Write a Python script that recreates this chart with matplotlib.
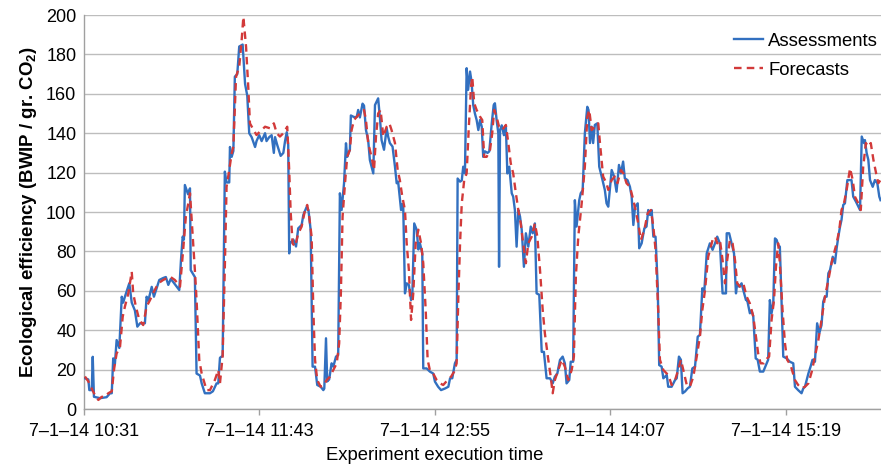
import matplotlib
matplotlib.use('Agg')
from matplotlib import pyplot as plt

# minutes after 7-1-14 10:31
t_assess = [0.4, 1.8, 2.2, 3.2, 3.6, 4.1, 6.6, 9.3, 10.7, 11.4, 12.0, 12.7, 13.4, 14.5, 15.5, 16.1, 16.8,
            18.6, 19.6, 20.9, 21.9, 23.0, 25.0, 25.7, 26.4, 27.8, 28.7, 30.9, 32.5, 33.6, 34.6, 35.6, 36.6,
            39.1, 39.8, 40.5, 41.0, 41.4, 42.7, 43.5, 43.8, 45.5, 46.2, 47.6, 48.3, 49.6, 51.7, 52.9, 54.4,
            55.1, 55.8, 56.9, 57.8, 58.5, 59.6, 59.9, 60.6, 61.3, 61.9, 62.9, 63.7, 65.1, 66.1, 67.0, 67.8,
            68.8, 70.2, 70.8, 71.9, 72.9, 74.3, 74.9, 76.0, 77.0, 77.9, 78.4, 79.3, 80.7, 81.8, 82.5, 83.2,
            83.8, 84.2, 84.5, 85.9, 87.0, 87.9, 89.3, 90.0, 91.4, 92.1, 93.0, 93.8, 94.8, 95.7, 97.1, 98.2,
            98.6, 99.3, 99.8, 100.6, 101.6, 102.3, 103.4, 104.3, 105.0, 105.7, 106.7, 107.5, 108.0, 109.1,
            109.5, 110.8, 111.9, 112.5, 113.2, 114.3, 114.9, 115.7, 116.6, 117.3, 118.7, 119.4, 120.7, 121.4,
            122.1, 123.1, 124.2, 124.8, 125.5, 126.6, 127.6, 128.3, 128.9, 130.1, 130.6, 131.0, 131.7, 132.4,
            133.3, 134.2, 134.7, 135.5, 136.5, 137.2, 137.8, 138.8, 139.2, 140.6, 141.9, 143.3, 144.0, 145.3,
            146.5, 148.1, 149.5, 150.2, 151.1, 152.2, 152.9, 153.3, 154.3, 155.0, 155.6, 156.3, 157.0, 157.6,
            158.4, 159.0, 159.7, 160.4, 161.1, 161.8, 162.5, 163.2, 163.8, 164.5, 165.6, 166.3, 167.3, 168.1,
            168.6, 169.3, 170.0, 170.3, 170.7, 171.4, 172.3, 173.1, 173.7, 174.5, 175.5, 176.1, 176.8, 177.5,
            178.2, 178.9, 179.6, 180.5, 181.3, 182.3, 183.3, 184.1, 185.0, 185.7, 186.8, 187.8, 188.7, 189.8,
            191.2, 192.3, 193.2, 194.2, 195.3, 196.4, 197.3, 198.0, 199.1, 199.7, 200.7, 201.4, 202.1, 203.2,
            203.8, 204.6, 205.5, 206.5, 207.0, 207.6, 208.3, 208.9, 209.6, 210.6, 211.4, 212.4, 213.7, 214.4,
            215.1, 216.5, 217.5, 218.5, 219.5, 220.3, 221.2, 221.9, 223.0, 224.0, 224.7, 225.4, 226.1, 227.2,
            227.8, 228.8, 229.9, 230.8, 231.5, 232.2, 232.9, 233.6, 234.5, 235.4, 236.0, 237.0, 237.7, 238.4,
            239.1, 239.7, 241.1, 242.5, 243.2, 244.1, 244.9, 245.6, 246.6, 247.7, 248.6, 249.6, 250.7, 251.8,
            252.7, 253.7, 254.5, 255.5, 256.8, 257.9, 258.9, 259.8, 260.9, 262.0, 263.4, 263.7, 264.7, 265.7,
            266.7, 267.5, 268.0, 268.8, 269.8, 270.5, 271.6, 272.1, 273.2, 273.9, 274.6, 275.6, 276.4, 277.3,
            278.7, 280.1, 280.7, 281.4, 282.1, 282.8, 283.5, 284.2, 284.8, 285.5, 286.2, 286.9, 288.3, 289.6,
            291.0, 291.7, 293.0, 294.4, 295.1, 295.8, 297.2, 298.1, 298.9, 299.9, 300.8, 301.7, 302.6, 303.3,
            304.0, 304.7, 305.4, 306.1, 307.2, 308.1, 308.8, 309.5, 310.2, 310.8, 311.5, 312.2, 313.2, 314.3,
            314.9, 315.6, 316.7, 317.7, 318.4, 319.1, 320.0, 320.4, 321.1, 321.8, 322.5, 323.6, 324.5, 325.5,
            326.3, 326.8]
v_assess = [15.6, 15, 9.6, 9.6, 26.5, 6.2, 5.5, 6, 8, 8, 25.7, 23, 35, 31, 57, 54, 57,
            63.8, 54, 50, 41.8, 43.5, 43.5, 57, 55, 62, 57, 65.5, 66.5, 67, 63, 66, 64.5,
            60.4, 75.6, 87.5, 86, 113.7, 109, 112, 70.5, 67, 18, 17, 13, 8, 8, 9, 13,
            13, 26, 27, 120.5, 115, 115, 133, 128, 131, 168.7, 170, 184, 185, 165, 159, 140,
            138, 133, 136, 139, 136, 140, 136, 138, 139, 130, 138, 134, 128.5, 130, 136, 140.5,
            134, 79, 84, 86, 82.5, 91.7, 93.4, 98.5, 102.7, 101, 91, 21.5, 21.5, 12.2, 11.3, 9.6,
            10.4, 35.9, 14, 15, 23.2, 21.5, 26.6, 27.4, 109.5, 101, 114.6, 134.9, 128, 131.6,
            149, 148.2, 148.2, 151.8, 148, 155, 154, 141.6, 136.5, 126.4, 119.6, 154.3, 157.7, 148.2,
            136.5, 131.6, 142.5, 138.3, 135, 133.2, 123, 114.6, 115.4, 101, 104, 102, 58.7, 63.8,
            63, 55.3, 57, 94.2, 91, 81, 84.3, 79, 20.6, 20.6, 19, 18, 13.9, 11.3,
            9.6, 10.4, 11.3, 15.6, 15.6, 23.2, 25, 117, 115.4, 116, 123, 119.6, 173, 162,
            171.3, 166.3, 154.3, 150, 146.7, 141.6, 146.7, 143.3, 128, 130.8, 130, 130.8, 145, 154.3,
            155.2, 146.7, 140, 72.2, 141.6, 144, 139, 143.3, 119.6, 123, 109.5, 107.8, 101, 82.4,
            101, 97.7, 91, 72.2, 89.2, 82.4, 92.6, 89.2, 94.2, 58.7, 58, 29, 29, 15.6,
            15.6, 13, 16.4, 18, 24.9, 26.6, 23.2, 13, 14.7, 24, 24, 106, 92.6, 106,
            109.5, 111, 140, 153.4, 151.8, 135, 143.3, 135, 144.2, 145, 123, 118, 111.2, 104.4,
            102.7, 121.3, 118, 110.3, 123.9, 119.6, 125.6, 117.1, 116.2, 112.8, 107.8, 93.4, 102.7, 104.4,
            81.6, 84.1, 91.7, 92.6, 101, 98.5, 101, 87.5, 87.5, 62.1, 22.3, 21.5, 15.6, 16.4,
            17.3, 11.3, 11.3, 14.7, 15.6, 26.6, 25, 8, 8.9, 10.5, 11.3, 20.6, 21.5, 36.7,
            37.6, 61.3, 59.6, 79, 84.1, 80.8, 84.1, 87.5, 84.1, 58.7, 58.7, 89.2, 89.2, 84.1,
            79, 58.7, 63.8, 62.1, 63.8, 60.4, 55.3, 55.3, 48.6, 50, 47, 25.7, 25, 19,
            19, 23.2, 25, 55.3, 48.6, 53.6, 86.6, 85.8, 83.2, 82.4, 53.6, 26.6, 25.7, 24,
            23.2, 11.3, 9.6, 8, 10.4, 11.3, 18, 21.5, 25, 24, 43.5, 38.5, 42.6, 54.5,
            57, 57, 68.9, 70.6, 77.3, 74, 81.6, 87.5, 92.6, 96, 103.6, 104.4, 116.2, 116.2,
            116.2, 107.8, 105.3, 102.7, 101, 138.3, 135, 136.5, 130, 126.5, 116.2, 112.8, 116.2, 114.6,
            107.8, 106]

t_fore = [0.4, 1.8, 3.2, 4.5, 5.9, 7.3, 8.6, 10.0, 11.4, 12.4, 13.4, 14.8, 15.9, 16.8, 18.2, 19.6,
          20.2, 21.3, 22.7, 24.3, 25.7, 27.1, 28.7, 30.5, 32.5, 35.3, 37.3, 39.4, 40.7, 41.8, 42.8,
          43.5, 44.2, 45.5, 46.2, 47.3, 48.3, 50.3, 51.7, 53.7, 55.1, 55.8, 56.9, 57.8, 58.5, 59.6,
          60.6, 61.3, 62.4, 63.7, 64.7, 65.4, 66.5, 67.4, 68.1, 69.2, 70.8, 72.2, 74.3, 76.3, 77.9,
          79.1, 80.4, 81.8, 83.4, 84.2, 84.8, 85.6, 86.6, 87.9, 89.3, 90.7, 91.6, 92.4, 93.4, 94.1,
          94.8, 95.7, 97.1, 98.5, 99.6, 100.9, 102.3, 103.7, 104.7, 105.4, 106.1, 107.1, 108.0, 109.1,
          109.8, 110.8, 111.9, 113.2, 114.9, 115.7, 116.6, 118.0, 119.0, 119.8, 120.7, 121.7, 122.8,
          124.2, 125.3, 126.2, 127.6, 128.7, 129.6, 130.6, 131.7, 132.4, 133.3, 134.2, 135.1, 136.1,
          137.2, 138.3, 139.2, 140.2, 141.0, 141.9, 143.3, 144.7, 146.1, 147.4, 149.2, 150.6, 151.9,
          152.9, 153.6, 154.3, 155.0, 156.0, 157.0, 157.9, 158.8, 159.3, 160.1, 161.1, 162.5, 163.4,
          164.2, 165.2, 166.6, 167.5, 168.3, 169.3, 170.3, 171.6, 173.1, 174.1, 175.1, 176.1, 177.2,
          178.2, 179.2, 180.2, 181.3, 182.3, 183.7, 185.0, 186.0, 187.1, 188.2, 189.1, 190.5, 191.5,
          192.3, 193.2, 194.6, 196.0, 197.3, 198.7, 200.1, 201.0, 201.8, 202.8, 204.2, 205.5, 206.5,
          207.3, 208.3, 209.6, 211.0, 211.7, 213.0, 214.4, 215.1, 216.5, 217.8, 218.9, 220.3, 221.3,
          222.6, 224.0, 225.4, 226.3, 227.4, 228.5, 229.9, 231.3, 232.6, 233.6, 234.5, 235.6, 236.3,
          237.7, 239.1, 240.0, 241.1, 242.5, 243.8, 244.9, 245.9, 247.3, 248.6, 250.0, 251.4, 252.7,
          253.7, 254.8, 256.1, 257.9, 258.9, 259.8, 260.9, 262.0, 263.0, 263.9, 265.0, 266.1, 267.1,
          268.0, 269.1, 270.5, 271.9, 273.2, 274.6, 275.7, 276.6, 277.6, 279.0, 280.3, 281.1, 282.1,
          283.1, 283.9, 284.8, 285.5, 286.6, 287.6, 288.5, 289.9, 291.7, 293.0, 294.4, 295.8, 297.2,
          298.6, 299.9, 301.3, 302.6, 304.0, 305.4, 306.7, 307.7, 308.8, 309.9, 310.8, 311.8, 312.9,
          314.3, 315.4, 316.3, 317.7, 318.7, 319.7, 320.8, 321.8, 322.8, 323.9, 325.0, 325.9, 326.8]
v_fore = [16.5, 14, 10.4, 7, 4.6, 6.2, 6.2, 8, 9, 20.6, 28.2, 31.6, 46.9, 52, 58.7, 69.7,
          58.7, 52, 45.2, 42.6, 52, 55.3, 59.6, 63.8, 65.5, 67.2, 65.5, 62.1, 80.7, 97.7, 104.4,
          109.5, 96, 70.6, 55.3, 24.9, 18, 9.6, 9.6, 14.7, 19.8, 13, 27, 72.2, 112.8, 121.3,
          129.7, 133.2, 168.7, 173.8, 187.3, 199.1, 183.9, 163.6, 145, 142.5, 139.1, 140.8, 143.3, 142.5, 145,
          140, 138.3, 140, 143.3, 121.3, 100, 84, 82.5, 89, 92.6, 101, 103.6, 97.7, 87.5, 50.3,
          25, 14.7, 11.3, 12.2, 14.7, 16.4, 19.8, 23.2, 33.3, 58.7, 97.7, 114.6, 128, 131.6,
          141.6, 146.7, 148.3, 150, 151.8, 146.7, 135, 128, 121.3, 138.3, 150, 151.8, 138.3,
          143.3, 145, 141.6, 135, 121.3, 116.2, 107.8, 101, 84.1, 70.6, 45.2, 58.7, 84.1,
          91, 84.1, 74, 50.3, 25, 19.8, 18, 14.7, 13, 12.2, 14.7, 16.4, 19,
          23.2, 57, 84.1, 104.4, 116.2, 119.6, 143.3, 163.6, 168.7, 155.2, 151.8, 148.4, 146.7,
          128, 128, 131.6, 140, 151.8, 148.3, 143.3, 141.6, 144.2, 135, 124.7, 119.6, 109.5,
          101, 94.2, 84.1, 74, 84.1, 87.5, 94.2, 87.5, 70.6, 50.3, 38.4, 25, 16.4,
          8, 14.7, 19.8, 25, 21.5, 14.7, 19.8, 26.6, 67.2, 87.5, 104.4, 123, 148.3,
          151.8, 141.6, 143.3, 145, 135, 118, 114.6, 111.2, 116.2, 118, 114.6, 121.3, 119.6,
          114.6, 112.8, 106, 101, 94.2, 85.8, 91, 99.4, 101, 92.6, 80.8, 50.3, 25,
          19.8, 18, 16.4, 12.2, 14.7, 19.8, 25, 19.8, 12.2, 11.3, 16.4, 26.6, 36.7,
          50.3, 60.4, 77.3, 85.8, 87.5, 84.1, 85.8, 75.6, 63.8, 75.6, 85.8, 84.1, 75.6,
          63.8, 62.1, 63.8, 57, 53.6, 47, 36.7, 28.2, 23.2, 23.2, 25.7, 26.6, 45.2,
          55.3, 72.2, 84.1, 74, 50.3, 33.3, 25, 22.3, 14.7, 12.2, 10.5, 11.3, 13,
          19, 26.6, 35, 45.2, 57, 65.5, 74, 79, 84.1, 91, 101, 104.4, 111.2,
          122.2, 116.2, 107.8, 104.4, 101, 123, 135, 133.2, 135, 126.4, 119.6, 114.6, 116.2]

tick_pos = [0, 72, 144, 216, 288]
tick_labels = ['7\u20131\u201314 10:31', '7\u20131\u201314 11:43', '7\u20131\u201314 12:55',
               '7\u20131\u201314 14:07', '7\u20131\u201314 15:19']

plt.rcParams['font.family'] = ['Liberation Sans', 'DejaVu Sans']
plt.rcParams['mathtext.fontset'] = 'custom'
plt.rcParams['mathtext.bf'] = 'Liberation Sans:bold'
plt.rcParams['mathtext.rm'] = 'Liberation Sans'

fig = plt.figure(figsize=(8.81, 4.66), dpi=100)
ax = fig.add_axes([0.0953, 0.1223, 0.9047, 0.8455])

ax.plot(t_assess, v_assess, color='#3270c0', lw=1.7, label='Assessments', zorder=3)
ax.plot(t_fore, v_fore, color='#d23a3a', lw=1.7, ls=(0, (3.2, 2.2)), label='Forecasts', zorder=4)

ax.set_xlim(0, 327)
ax.set_ylim(0, 200)
ax.set_yticks(range(0, 201, 20))
ax.yaxis.grid(True, color='#bdbdbd', lw=1.0)
ax.set_axisbelow(True)
ax.set_xticks(tick_pos)
ax.set_xticklabels(tick_labels)
ax.tick_params(axis='x', length=4, width=1, color='#a0a0a0', labelsize=13, pad=6)
ax.tick_params(axis='y', length=0, labelsize=13, pad=5.5)
for s in ['top', 'right']:
    ax.spines[s].set_visible(False)
for s in ['left', 'bottom']:
    ax.spines[s].set_color('#a0a0a0')
    ax.spines[s].set_linewidth(1.0)

ax.set_xlabel('Experiment execution time', fontsize=13.3)
ax.xaxis.set_label_coords(0.44, -0.097)
ax.set_ylabel(r'Ecological efficiency (BWIP / gr. CO$_\mathbf{2}$)', fontsize=13.4,
              fontweight='bold', labelpad=5)
ax.legend(loc='upper right', bbox_to_anchor=(1.0, 0.962), frameon=False, fontsize=13.3,
          handlelength=1.55, labelspacing=0.65, handletextpad=0.3, borderaxespad=0.0,
          borderpad=0.15)

fig.savefig('out.png', dpi=100)
